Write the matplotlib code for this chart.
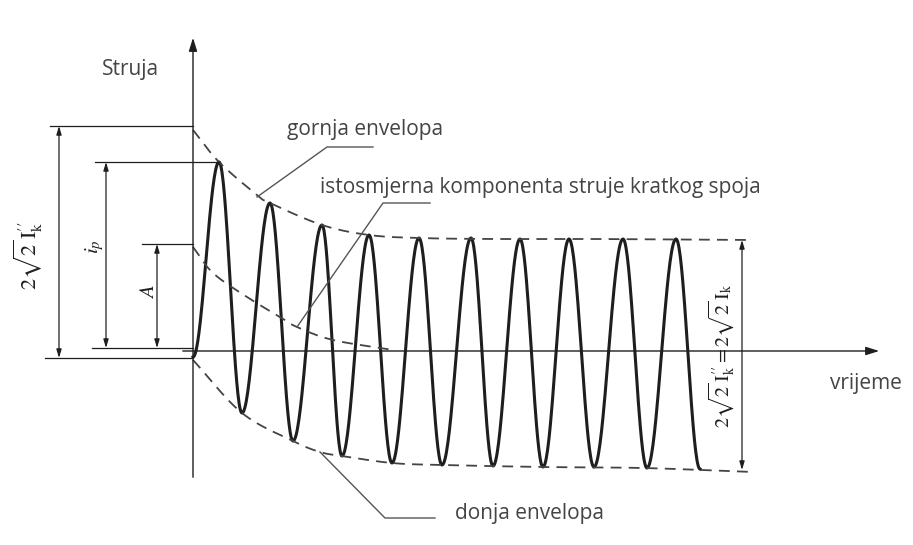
import numpy as np
import matplotlib
matplotlib.use("Agg")
import matplotlib.pyplot as plt

plt.rcParams['mathtext.fontset'] = 'stix'

# ---- data (time units ~ px, current units ~ px; origin at axis crossing) ----
start_t, start_i = 0, -6
peak_t = [26, 77, 129, 176, 226, 278, 327, 376, 430, 483]
peak_i = [189, 148, 126, 116, 113, 113, 112, 112, 112, 112]
trough_t = [49, 100, 149, 199, 249, 300, 350, 401, 454, 507]
trough_i = [-62, -90, -105, -112, -114, -115, -116, -116, -117, -118]

upper_env_t = [0, 26, 64, 77, 129, 176, 226, 300, 400, 560]
upper_env_i = [221, 189, 156, 148, 126, 116, 113, 112, 112, 111]
lower_env_t = [0, 49, 100, 127, 149, 199, 249, 350, 450, 560]
lower_env_i = [-9, -62, -90, -101, -105, -112, -114, -116, -117, -121]
dc_t = [0, 20, 54, 87, 104, 140, 200]
dc_i = [104, 78, 54, 34, 24, 11, 1]

labels = {
    'y': 'Struja',
    'x': 'vrijeme',
    'upper': 'gornja envelopa',
    'dc': 'istosmjerna komponenta struje kratkog spoja',
    'lower': 'donja envelopa',
}

TXT = '#444444'
LN = '#1e1e1e'


def catmull(xs, ys, n=24):
    p = np.column_stack([xs, ys]).astype(float)
    p = np.vstack([2 * p[0] - p[1], p, 2 * p[-1] - p[-2]])
    out = []
    for k in range(1, len(p) - 2):
        p0, p1, p2, p3 = p[k - 1], p[k], p[k + 1], p[k + 2]
        s = np.linspace(0, 1, n, endpoint=False)[:, None]
        seg = 0.5 * ((2 * p1) + (-p0 + p2) * s + (2 * p0 - 5 * p1 + 4 * p2 - p3) * s ** 2
                     + (-p0 + 3 * p1 - 3 * p2 + p3) * s ** 3)
        out.append(seg)
    out.append(p[-2][None, :])
    o = np.vstack(out)
    return o[:, 0], o[:, 1]


fig = plt.figure(figsize=(9.13, 5.45), dpi=100)
ax = fig.add_axes([0, 0, 1, 1])
ax.set_xlim(-193, 720)
ax.set_ylim(-194, 351)
ax.axis('off')

# axes with arrows
ax.annotate('', xy=(0, 316), xytext=(0, -129),
            arrowprops=dict(arrowstyle='-|>,head_length=0.8,head_width=0.25', color=LN, lw=1.0))
ax.annotate('', xy=(689, 0), xytext=(-13, 0),
            arrowprops=dict(arrowstyle='-|>,head_length=0.8,head_width=0.25', color=LN, lw=1.0))

# waveform: cosine half-waves between consecutive extremes
ext_t = [start_t]
ext_i = [start_i]
for a, b, c, d in zip(peak_t, peak_i, trough_t, trough_i):
    ext_t += [a, c]
    ext_i += [b, d]
wt, wi = [], []
for k in range(len(ext_t) - 1):
    s = np.linspace(0, 1, 40)
    wt.append(ext_t[k] + (ext_t[k + 1] - ext_t[k]) * s)
    wi.append(ext_i[k] + (ext_i[k + 1] - ext_i[k]) * (1 - np.cos(np.pi * s)) / 2)
ax.plot(np.concatenate(wt), np.concatenate(wi), color=LN, lw=2.2, solid_joinstyle='round')

# envelopes and DC component
dash = dict(color='#444444', lw=1.3, dashes=(6, 4))
ax.plot(*catmull(upper_env_t, upper_env_i), **dash)
ax.plot(*catmull(lower_env_t, lower_env_i), **dash)
ax.plot(*catmull(dc_t, dc_i), **dash)

# dimension lines
thin = dict(color=LN, lw=0.9)
ax.plot([-143, 0], [225, 225], **thin)
ax.plot([-148, 0], [-7, -7], **thin)
ax.plot([-98, 26], [189, 189], **thin)
ax.plot([-101, 0], [3, 3], **thin)
ax.plot([-51, 0], [107, 107], **thin)
darr = dict(arrowstyle='<|-|>,head_length=0.5,head_width=0.15', color=LN, lw=0.9,
            shrinkA=0, shrinkB=0)
ax.annotate('', xy=(-134, 225), xytext=(-134, -7), arrowprops=darr)
ax.annotate('', xy=(-87, 189), xytext=(-87, 3), arrowprops=darr)
ax.annotate('', xy=(-36, 107), xytext=(-36, 3), arrowprops=darr)
ax.annotate('', xy=(549, 111), xytext=(549, -119), arrowprops=darr)

# leader lines
lead = dict(color='#555555', lw=1.0)
ax.plot([64, 134, 180], [154, 204, 204], **lead)
ax.plot([104, 190, 237], [24, 148, 148], **lead)
ax.plot([127, 192, 242], [-101, -167, -167], **lead)

# texts
fs = 15
ax.text(-63, 282, labels['y'], fontsize=fs, family='Open Sans', color=TXT, ha='center', va='center')
ax.text(637, -32, labels['x'], fontsize=fs, family='Open Sans', color=TXT, ha='left', va='center')
ax.text(94, 221, labels['upper'], fontsize=fs, family='Open Sans', color=TXT, ha='left', va='center')
ax.text(127, 164, labels['dc'], fontsize=fs, family='Open Sans', color=TXT, ha='left', va='center')
ax.text(262, -162, labels['lower'], fontsize=fs, family='Open Sans', color=TXT, ha='left', va='center')

ax.text(-165, 95, r'$2\sqrt{2}\,\mathrm{I}_{\mathrm{k}}^{\prime\prime}$', fontsize=16,
        color=LN, rotation=90, ha='center', va='center')
ax.text(-98, 104, r'$i_p$', fontsize=15, color=LN, rotation=90, ha='center', va='center')
ax.text(-45, 59, r'$A$', fontsize=15, color=LN, rotation=90, ha='center', va='center')
ax.text(529, -5, r'$2\sqrt{2}\,\mathrm{I}_{\mathrm{k}}^{\prime\prime}=2\sqrt{2}\,\mathrm{I}_{\mathrm{k}}$',
        fontsize=14.5, color=LN, rotation=90, ha='center', va='center')

fig.savefig('out.png', dpi=100, facecolor='white')
